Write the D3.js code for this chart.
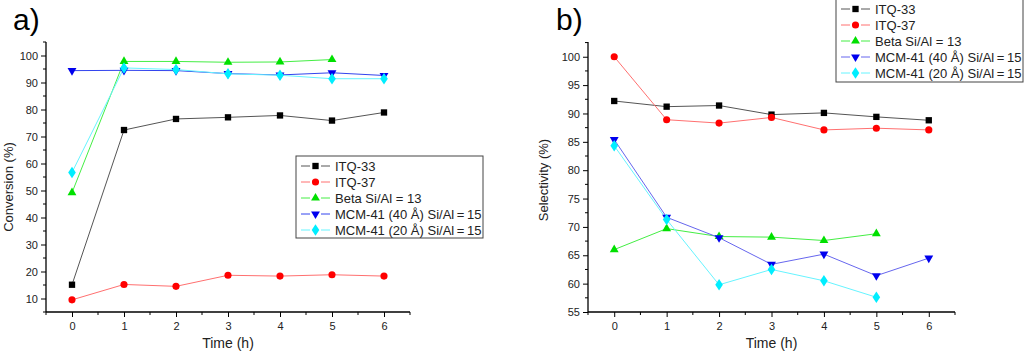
<!DOCTYPE html>
<html><head><meta charset="utf-8">
<script src="https://cdn.jsdelivr.net/npm/d3@7"></script>
<style>body{margin:0;background:#fff}svg{display:block;font-family:"Liberation Sans",Arial,sans-serif}</style>
</head><body><svg id="c" width="1024" height="354"></svg>
<script>
const times = [0,1,2,3,4,5,6];
const seriesNames = ["ITQ-33","ITQ-37","Beta Si/Al = 13","MCM-41 (40 Å) Si/Al\u2009=\u200915","MCM-41 (20 Å) Si/Al\u2009=\u200915"];
const markerColors = ["#000000","#ff0000","#00e000","#0000ee","#00eeff"];
const lineColorsA = ["#555555","#ff7070","#44ee44","#3344ee","#66f4ff"];
const lineColorsB = ["#555555","#ff7070","#44ee44","#6666ee","#66f4ff"];
const markerShapes = ["square","circle","triangle","triangleDown","diamond"];

// Panel a: Conversion (%)
const convITQ33 = [15.1,72.4,76.5,77.1,77.8,75.9,78.9];
const convITQ37 = [9.5,15.2,14.5,18.6,18.3,18.8,18.3];
const convBeta = [49.2,97.8,97.8,97.5,97.6,98.5];
const convMCM40 = [94.4,94.5,94.4,93.3,92.8,93.6,92.6];
const convMCM20 = [56.7,95.4,94.8,93.2,92.7,91.4,91.4];

// Panel b: Selectivity (%)
const selITQ33 = [92.2,91.2,91.4,89.8,90.1,89.4,88.8];
const selITQ37 = [100,88.9,88.3,89.3,87.1,87.4,87.1];
const selBeta = [66.0,69.7,68.3,68.2,67.6,68.8];
const selMCM40 = [85.4,71.7,68.1,63.4,65.2,61.4,64.5];
const selMCM20 = [84.3,71.3,59.8,62.5,60.5,57.6];

const yTicksA = [10,20,30,40,50,60,70,80,90,100];
const yTicksB = [55,60,65,70,75,80,85,90,95,100];
const xTicks = [0,1,2,3,4,5,6];

const svg = d3.select("#c");

function marker(g, shape, x, y, color){
  const sym = {square:d3.symbolSquare, circle:d3.symbolCircle, triangle:d3.symbolTriangle, triangleDown:d3.symbolTriangle, diamond:d3.symbolDiamond}[shape];
  const size = {square:40, circle:40, triangle:34, triangleDown:34, diamond:38}[shape];
  const p = g.append("path").attr("d", d3.symbol().type(sym).size(size)())
    .attr("fill", color);
  let t = `translate(${x},${y})`;
  if (shape==="triangleDown") t += " rotate(180)";
  if (shape==="diamond") t += " scale(1.15,1)";
  p.attr("transform", t);
}

function panel(opts){
  const {x0,x1,y0,y1,domainY,yTicks,minorStep,data,title,label,labelX,titleX,titleY,lineColors} = opts;
  const xs = d3.scaleLinear().domain([-0.5,6.5]).range([x0,x1]);
  const ys = d3.scaleLinear().domain(domainY).range([y1,y0]);
  const g = svg.append("g");
  data.forEach((vals,i)=>{
    const line = d3.line().x((d,j)=>xs(times[j])).y(d=>ys(d));
    g.append("path").attr("d", line(vals)).attr("fill","none")
      .attr("stroke", lineColors[i]).attr("stroke-width",1);
  });
  data.forEach((vals,i)=>{
    vals.forEach((v,j)=>marker(g, markerShapes[i], xs(times[j]), ys(v), markerColors[i]));
  });
  const ya = g.append("g").attr("transform",`translate(${x0},0)`)
    .call(d3.axisLeft(ys).tickValues(yTicks).tickSize(5).tickPadding(3).tickFormat(d3.format("d")));
  const minorY = d3.range(domainY[0], domainY[1]+0.001, minorStep).filter(v=>!yTicks.includes(v));
  ya.selectAll(".minor").data(minorY).enter().append("line").attr("class","minor")
    .attr("x1",-3).attr("x2",0).attr("y1",d=>ys(d)).attr("y2",d=>ys(d)).attr("stroke","#000");
  const xa = g.append("g").attr("transform",`translate(0,${y1})`)
    .call(d3.axisBottom(xs).tickValues(xTicks).tickSize(5).tickPadding(5).tickFormat(d3.format("d")));
  const minorX = d3.range(-0.5,6.51,1);
  xa.selectAll(".minor").data(minorX).enter().append("line").attr("class","minor")
    .attr("y1",0).attr("y2",3).attr("x1",d=>xs(d)).attr("x2",d=>xs(d)).attr("stroke","#000");
  [ya,xa].forEach(a=>{
    a.select(".domain").attr("stroke","#000").attr("stroke-width",1.3);
    a.selectAll(".tick line").attr("stroke","#000");
    a.selectAll("text").attr("font-size",11).attr("fill","#222").attr("font-family","Liberation Sans, Arial, sans-serif");
  });
  ya.select(".domain").attr("d",`M0,${y0}V${y1}`);
  xa.select(".domain").attr("d",`M${x0},0H${x1}`);
  g.append("text").attr("x",(x0+x1)/2).attr("y",y1+36).attr("text-anchor","middle")
    .attr("font-size",14).attr("fill","#222").text("Time (h)");
  g.append("text").attr("transform",`translate(${titleX},${titleY}) rotate(-90)`)
    .attr("text-anchor","middle").attr("font-size",13).attr("fill","#222").text(title);
  g.append("text").attr("x",labelX).attr("y",30).attr("font-size",30).attr("fill","#000").text(label);
  return {xs,ys};
}

function legend(x, y, w, h, lineColors){
  const g = svg.append("g");
  g.append("rect").attr("x",x).attr("y",y).attr("width",w).attr("height",h)
    .attr("fill","#fff").attr("stroke","#444").attr("stroke-width",1);
  seriesNames.forEach((n,i)=>{
    const cy = y + 10 + i*16;
    g.append("line").attr("x1",x+5).attr("x2",x+34).attr("y1",cy).attr("y2",cy)
      .attr("stroke",lineColors[i]).attr("stroke-width",1);
    g.append("rect").attr("x",x+14).attr("y",cy-1).attr("width",11).attr("height",2).attr("fill","#fff");
    marker(g, markerShapes[i], x+19.5, cy, markerColors[i]);
    g.append("text").attr("x",x+39).attr("y",cy+4.5).attr("font-size",13).attr("fill","#222").text(n);
  });
}

panel({x0:46,x1:410,y0:42,y1:312,domainY:[5,105],yTicks:yTicksA,minorStep:5,
  data:[convITQ33,convITQ37,convBeta,convMCM40,convMCM20],title:"Conversion (%)",label:"a)",labelX:13,titleX:13,titleY:187,lineColors:lineColorsA});
legend(296,156,187,82,lineColorsA);

panel({x0:588,x1:955,y0:42,y1:312,domainY:[55,102.6],yTicks:yTicksB,minorStep:2.5,
  data:[selITQ33,selITQ37,selBeta,selMCM40,selMCM20],title:"Selectivity (%)",label:"b)",labelX:556,titleX:548,titleY:180,lineColors:lineColorsB});
legend(836,-1,187,83,lineColorsB);
</script></body></html>
